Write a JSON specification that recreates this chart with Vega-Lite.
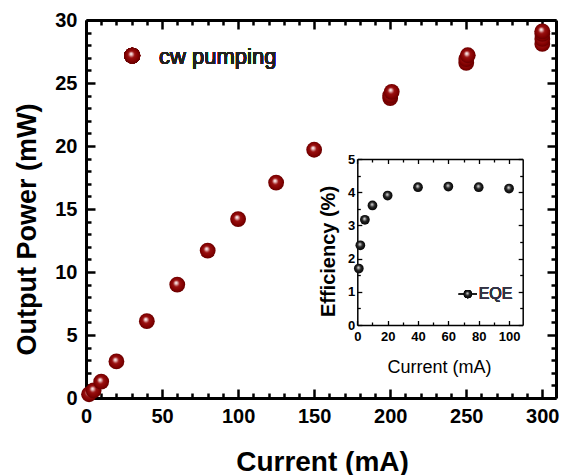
{
  "$schema": "https://vega.github.io/schema/vega-lite/v6.json",
  "width": 470,
  "height": 378,
  "autosize": {"type": "none"},
  "padding": {"left": 86, "top": 20, "right": 10, "bottom": 77},
  "background": "white",
  "config": {
    "view": {"stroke": null},
    "font": "Liberation Sans",
    "axis": {"grid": false}
  },
  "datasets": {
    "cw": [
      {"current": 2, "power": 0.3},
      {"current": 5, "power": 0.6},
      {"current": 10, "power": 1.3},
      {"current": 20, "power": 2.9},
      {"current": 40, "power": 6.1},
      {"current": 60, "power": 9.0},
      {"current": 80, "power": 11.7},
      {"current": 100, "power": 14.2},
      {"current": 125, "power": 17.1},
      {"current": 150, "power": 19.7},
      {"current": 200, "power": 23.8},
      {"current": 200, "power": 24.0},
      {"current": 201, "power": 24.3},
      {"current": 250, "power": 26.6},
      {"current": 250, "power": 26.9},
      {"current": 251, "power": 27.2},
      {"current": 300, "power": 28.1},
      {"current": 300, "power": 28.5},
      {"current": 300, "power": 28.9},
      {"current": 300, "power": 29.1}
    ],
    "eqe": [
      {"current": 1, "eff": 1.7},
      {"current": 2, "eff": 2.4},
      {"current": 5, "eff": 3.17},
      {"current": 10, "eff": 3.6},
      {"current": 20, "eff": 3.9},
      {"current": 40, "eff": 4.15},
      {"current": 60, "eff": 4.17},
      {"current": 80, "eff": 4.15},
      {"current": 100, "eff": 4.11}
    ]
  },
  "resolve": {"scale": {"x": "independent", "y": "independent"}},
  "layer": [
    {
      "data": {"name": "cw"},
      "resolve": {"axis": {"x": "independent", "y": "independent"}},
      "layer": [
        {
          "mark": {"type": "point", "opacity": 0},
          "encoding": {
            "x": {"field": "current", "type": "quantitative", "scale": {"domain": [0, 309], "nice": false, "zero": false},
              "axis": {"orient": "top", "values": [0,50,100,150,200,250,300], "labels": false, "title": null, "ticks": false, "tickSize": 0, "domainWidth": 3, "domainColor": "black"}},
            "y": {"field": "power", "type": "quantitative", "scale": {"domain": [0, 30], "nice": false, "zero": false},
              "axis": {"orient": "right", "values": [0,5,10,15,20,25,30], "labels": false, "title": null, "ticks": false, "tickSize": 0, "domainWidth": 3, "domainColor": "black"}}
          }
        },
        {
          "mark": {"type": "point", "opacity": 0},
          "encoding": {
            "x": {"field": "current", "type": "quantitative", "scale": {"domain": [0, 309], "nice": false, "zero": false},
              "axis": {"orient": "bottom", "offset": -9, "values": [0,50,100,150,200,250,300], "labels": false, "title": null, "domain": false, "tickSize": 9, "tickWidth": 2.5, "tickColor": "black"}},
            "y": {"field": "power", "type": "quantitative", "scale": {"domain": [0, 30], "nice": false, "zero": false},
              "axis": {"orient": "left", "offset": -9, "values": [0,5,10,15,20,25,30], "labels": false, "title": null, "domain": false, "tickSize": 9, "tickWidth": 2.5, "tickColor": "black"}}
          }
        },
        {
          "mark": {"type": "point", "opacity": 0},
          "encoding": {
            "x": {"field": "current", "type": "quantitative", "scale": {"domain": [0, 309], "nice": false, "zero": false},
              "axis": {"orient": "bottom", "offset": -5, "values": [10,20,30,40,60,70,80,90,110,120,130,140,160,170,180,190,210,220,230,240,260,270,280,290], "labels": false, "title": null, "domain": false, "tickSize": 5, "tickWidth": 2.5, "tickColor": "black"}},
            "y": {"field": "power", "type": "quantitative", "scale": {"domain": [0, 30], "nice": false, "zero": false},
              "axis": {"orient": "left", "offset": -5, "values": [1,2,3,4,6,7,8,9,11,12,13,14,16,17,18,19,21,22,23,24,26,27,28,29], "labels": false, "title": null, "domain": false, "tickSize": 5, "tickWidth": 2.5, "tickColor": "black"}}
          }
        },
        {
          "mark": {"type": "point", "opacity": 0},
          "encoding": {
            "x": {"field": "current", "type": "quantitative", "scale": {"domain": [0, 309], "nice": false, "zero": false},
              "axis": {"orient": "top", "offset": -9, "values": [0,50,100,150,200,250,300], "labels": false, "title": null, "domain": false, "tickSize": 9, "tickWidth": 2.5, "tickColor": "black"}},
            "y": {"field": "power", "type": "quantitative", "scale": {"domain": [0, 30], "nice": false, "zero": false},
              "axis": {"orient": "right", "offset": -9, "values": [0,5,10,15,20,25,30], "labels": false, "title": null, "domain": false, "tickSize": 9, "tickWidth": 2.5, "tickColor": "black"}}
          }
        },
        {
          "mark": {"type": "point", "opacity": 0},
          "encoding": {
            "x": {"field": "current", "type": "quantitative", "scale": {"domain": [0, 309], "nice": false, "zero": false},
              "axis": {"orient": "top", "offset": -5, "values": [10,20,30,40,60,70,80,90,110,120,130,140,160,170,180,190,210,220,230,240,260,270,280,290], "labels": false, "title": null, "domain": false, "tickSize": 5, "tickWidth": 2.5, "tickColor": "black"}},
            "y": {"field": "power", "type": "quantitative", "scale": {"domain": [0, 30], "nice": false, "zero": false},
              "axis": {"orient": "right", "offset": -5, "values": [1,2,3,4,6,7,8,9,11,12,13,14,16,17,18,19,21,22,23,24,26,27,28,29], "labels": false, "title": null, "domain": false, "tickSize": 5, "tickWidth": 2.5, "tickColor": "black"}}
          }
        },
        {
          "mark": {"type": "point", "shape": "circle", "filled": true, "opacity": 1, "size": 250, "strokeWidth": 0,
            "fill": {"gradient": "radial", "x1": 0.42, "y1": 0.38, "r1": 0, "x2": 0.5, "y2": 0.5, "r2": 0.55,
              "stops": [{"offset": 0, "color": "#ffffff"}, {"offset": 0.12, "color": "#efcccc"}, {"offset": 0.38, "color": "#9a1010"}, {"offset": 0.75, "color": "#800000"}, {"offset": 1, "color": "#5a0000"}]}},
          "encoding": {
            "x": {"field": "current", "type": "quantitative", "scale": {"domain": [0, 309], "nice": false, "zero": false},
              "axis": {"orient": "bottom", "values": [0,50,100,150,200,250,300], "format": "d", "ticks": false, "tickSize": 0,
                "domainWidth": 3, "domainColor": "black", "labelColor": "black", "labelFlush": false, "labelOverlap": false,
                "labelFontSize": 20, "labelFontWeight": "bold", "labelPadding": 8,
                "title": "Current (mA)", "titleColor": "black", "titleFontSize": 28, "titleFontWeight": "bold", "titleX": 236, "titleY": 64, "titleBaseline": "middle"}},
            "y": {"field": "power", "type": "quantitative", "scale": {"domain": [0, 30], "nice": false, "zero": false},
              "axis": {"orient": "left", "values": [0,5,10,15,20,25,30], "format": "d", "ticks": false, "tickSize": 0,
                "domainWidth": 3, "domainColor": "black", "labelColor": "black", "labelFlush": false, "labelOverlap": false,
                "labelFontSize": 20, "labelFontWeight": "bold", "labelPadding": 9,
                "title": "Output Power (mW)", "titleColor": "black", "titleFontSize": 27, "titleFontWeight": "bold", "titleX": -59, "titleY": 209, "titleBaseline": "middle"}}
          }
        },
        {
          "mark": {"type": "point", "shape": "circle", "filled": true, "opacity": 1, "size": 250, "strokeWidth": 0,
            "fill": {"gradient": "radial", "x1": 0.42, "y1": 0.38, "r1": 0, "x2": 0.5, "y2": 0.5, "r2": 0.55,
              "stops": [{"offset": 0, "color": "#ffffff"}, {"offset": 0.12, "color": "#efcccc"}, {"offset": 0.38, "color": "#9a1010"}, {"offset": 0.75, "color": "#800000"}, {"offset": 1, "color": "#5a0000"}]}},
          "encoding": {
            "x": {"datum": 30.4, "type": "quantitative", "scale": {"domain": [0, 309], "nice": false, "zero": false}, "axis": null},
            "y": {"datum": 27.17, "type": "quantitative", "scale": {"domain": [0, 30], "nice": false, "zero": false}, "axis": null}
          }
        },
        {
          "mark": {"type": "text", "align": "left", "baseline": "middle", "fontSize": 22, "fontWeight": "normal", "color": "#222222"},
          "encoding": {
            "x": {"datum": 48, "type": "quantitative", "scale": {"domain": [0, 309], "nice": false, "zero": false}, "axis": null},
            "y": {"datum": 27.1, "type": "quantitative", "scale": {"domain": [0, 30], "nice": false, "zero": false}, "axis": null},
            "text": {"value": "cw pumping"}
          }
        }
      ]
    },
    {
      "data": {"name": "eqe"},
      "resolve": {"axis": {"x": "independent", "y": "independent"}},
      "layer": [
        {
          "mark": {"type": "point", "opacity": 0},
          "encoding": {
            "x": {"field": "current", "type": "quantitative", "scale": {"domain": [0, 109], "range": [271.3, 436.7], "nice": false, "zero": false},
              "axis": {"orient": "top", "offset": -139, "values": [0,20,40,60,80,100], "labels": false, "title": null, "ticks": false, "tickSize": 0, "domainWidth": 1.5, "domainColor": "black"}},
            "y": {"field": "eff", "type": "quantitative", "scale": {"domain": [0, 5], "range": [305, 139], "nice": false, "zero": false},
              "axis": {"orient": "right", "offset": -33.3, "values": [0,1,2,3,4,5], "labels": false, "title": null, "ticks": false, "tickSize": 0, "domainWidth": 1.5, "domainColor": "black"}}
          }
        },
        {
          "mark": {"type": "point", "opacity": 0},
          "encoding": {
            "x": {"field": "current", "type": "quantitative", "scale": {"domain": [0, 109], "range": [271.3, 436.7], "nice": false, "zero": false},
              "axis": {"orient": "bottom", "offset": -77.5, "values": [0,20,40,60,80,100], "labels": false, "title": null, "domain": false, "tickSize": 4.5, "tickWidth": 1.3, "tickColor": "black"}},
            "y": {"field": "eff", "type": "quantitative", "scale": {"domain": [0, 5], "range": [305, 139], "nice": false, "zero": false},
              "axis": {"orient": "left", "offset": -275.8, "values": [0,1,2,3,4,5], "labels": false, "title": null, "domain": false, "tickSize": 4.5, "tickWidth": 1.3, "tickColor": "black"}}
          }
        },
        {
          "mark": {"type": "point", "opacity": 0},
          "encoding": {
            "x": {"field": "current", "type": "quantitative", "scale": {"domain": [0, 109], "range": [271.3, 436.7], "nice": false, "zero": false},
              "axis": {"orient": "bottom", "offset": -76, "values": [10,30,50,70,90], "labels": false, "title": null, "domain": false, "tickSize": 3, "tickWidth": 1.3, "tickColor": "black"}},
            "y": {"field": "eff", "type": "quantitative", "scale": {"domain": [0, 5], "range": [305, 139], "nice": false, "zero": false},
              "axis": {"orient": "left", "offset": -274.3, "values": [0.5,1.5,2.5,3.5,4.5], "labels": false, "title": null, "domain": false, "tickSize": 3, "tickWidth": 1.3, "tickColor": "black"}}
          }
        },
        {
          "mark": {"type": "point", "opacity": 0},
          "encoding": {
            "x": {"field": "current", "type": "quantitative", "scale": {"domain": [0, 109], "range": [271.3, 436.7], "nice": false, "zero": false},
              "axis": {"orient": "top", "offset": -143.5, "values": [0,20,40,60,80,100], "labels": false, "title": null, "domain": false, "tickSize": 4.5, "tickWidth": 1.3, "tickColor": "black"}},
            "y": {"field": "eff", "type": "quantitative", "scale": {"domain": [0, 5], "range": [305, 139], "nice": false, "zero": false},
              "axis": {"orient": "right", "offset": -37.8, "values": [0,1,2,3,4,5], "labels": false, "title": null, "domain": false, "tickSize": 4.5, "tickWidth": 1.3, "tickColor": "black"}}
          }
        },
        {
          "mark": {"type": "point", "opacity": 0},
          "encoding": {
            "x": {"field": "current", "type": "quantitative", "scale": {"domain": [0, 109], "range": [271.3, 436.7], "nice": false, "zero": false},
              "axis": {"orient": "top", "offset": -142, "values": [10,30,50,70,90], "labels": false, "title": null, "domain": false, "tickSize": 3, "tickWidth": 1.3, "tickColor": "black"}},
            "y": {"field": "eff", "type": "quantitative", "scale": {"domain": [0, 5], "range": [305, 139], "nice": false, "zero": false},
              "axis": {"orient": "right", "offset": -36.3, "values": [0.5,1.5,2.5,3.5,4.5], "labels": false, "title": null, "domain": false, "tickSize": 3, "tickWidth": 1.3, "tickColor": "black"}}
          }
        },
        {
          "mark": {"type": "point", "shape": "circle", "filled": true, "opacity": 1, "size": 95, "strokeWidth": 0,
            "fill": {"gradient": "radial", "x1": 0.45, "y1": 0.38, "r1": 0, "x2": 0.5, "y2": 0.5, "r2": 0.55,
              "stops": [{"offset": 0, "color": "#f2f2f2"}, {"offset": 0.15, "color": "#b0b0b0"}, {"offset": 0.45, "color": "#252525"}, {"offset": 1, "color": "#000000"}]}},
          "encoding": {
            "x": {"field": "current", "type": "quantitative", "scale": {"domain": [0, 109], "range": [271.3, 436.7], "nice": false, "zero": false},
              "axis": {"orient": "bottom", "offset": -73, "values": [0,20,40,60,80,100], "format": "d", "ticks": false, "tickSize": 0,
                "domainWidth": 1.5, "domainColor": "black", "labelColor": "black", "labelFlush": false, "labelOverlap": false,
                "labelFontSize": 13, "labelFontWeight": "bold", "labelPadding": 5,
                "title": "Current (mA)", "titleColor": "black", "titleFontSize": 18, "titleFontWeight": "normal", "titleX": 353, "titleY": 42, "titleBaseline": "middle"}},
            "y": {"field": "eff", "type": "quantitative", "scale": {"domain": [0, 5], "range": [305, 139], "nice": false, "zero": false},
              "axis": {"orient": "left", "offset": -271.3, "values": [0,1,2,3,4,5], "format": "d", "ticks": false, "tickSize": 0,
                "domainWidth": 1.5, "domainColor": "black", "labelColor": "black", "labelFlush": false, "labelOverlap": false,
                "labelFontSize": 13, "labelFontWeight": "bold", "labelPadding": 2.5,
                "title": "Efficiency (%)", "titleColor": "black", "titleFontSize": 20, "titleFontWeight": "bold", "titleX": -29, "titleY": 231, "titleBaseline": "middle"}}
          }
        },
        {
          "mark": {"type": "rule", "color": "#222222", "strokeWidth": 1.5},
          "encoding": {
            "x": {"datum": 66.9, "type": "quantitative", "scale": {"domain": [0, 109], "range": [271.3, 436.7], "nice": false, "zero": false}, "axis": null},
            "x2": {"datum": 78.8},
            "y": {"datum": 0.93, "type": "quantitative", "scale": {"domain": [0, 5], "range": [305, 139], "nice": false, "zero": false}, "axis": null}
          }
        },
        {
          "mark": {"type": "point", "shape": "circle", "filled": true, "opacity": 1, "size": 65, "strokeWidth": 0,
            "fill": {"gradient": "radial", "x1": 0.45, "y1": 0.38, "r1": 0, "x2": 0.5, "y2": 0.5, "r2": 0.55,
              "stops": [{"offset": 0, "color": "#f2f2f2"}, {"offset": 0.15, "color": "#b0b0b0"}, {"offset": 0.45, "color": "#252525"}, {"offset": 1, "color": "#000000"}]}},
          "encoding": {
            "x": {"datum": 72.8, "type": "quantitative", "scale": {"domain": [0, 109], "range": [271.3, 436.7], "nice": false, "zero": false}, "axis": null},
            "y": {"datum": 0.93, "type": "quantitative", "scale": {"domain": [0, 5], "range": [305, 139], "nice": false, "zero": false}, "axis": null}
          }
        },
        {
          "mark": {"type": "text", "align": "left", "baseline": "middle", "fontSize": 16, "fontWeight": "normal", "color": "#333345"},
          "encoding": {
            "x": {"datum": 80, "type": "quantitative", "scale": {"domain": [0, 109], "range": [271.3, 436.7], "nice": false, "zero": false}, "axis": null},
            "y": {"datum": 0.93, "type": "quantitative", "scale": {"domain": [0, 5], "range": [305, 139], "nice": false, "zero": false}, "axis": null},
            "text": {"value": "EQE"}
          }
        }
      ]
    }
  ]
}
